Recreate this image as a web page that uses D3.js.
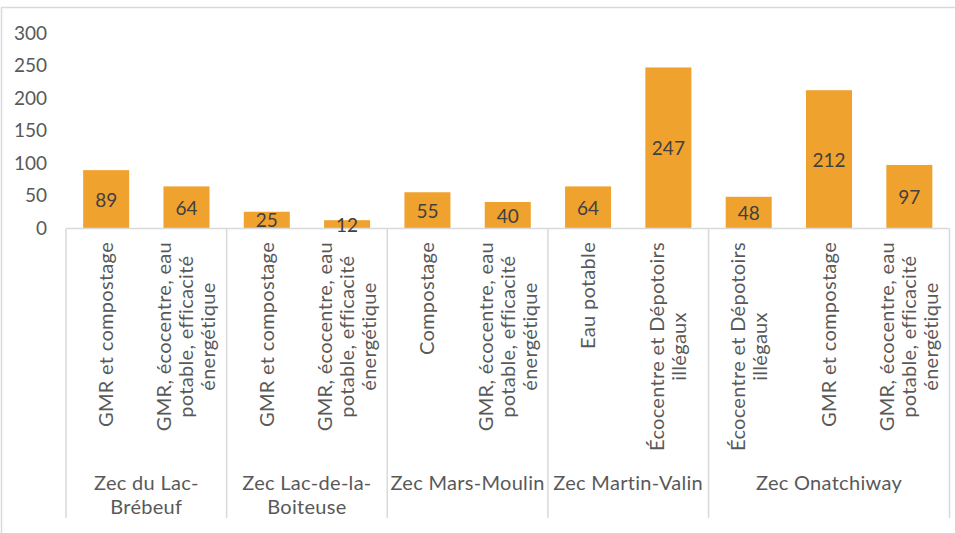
<!DOCTYPE html>
<html>
<head>
<meta charset="utf-8">
<script src="https://cdn.jsdelivr.net/npm/d3@7"></script>
<style>
  body { margin: 0; background: #fff; }
  text { font-family: Lato, "Open Sans", sans-serif; }
</style>
</head>
<body>
<div id="chart"></div>
<script>
// one entry per bar, lines of the rotated label
var categories = [
    ["GMR et compostage"],
    ["GMR, écocentre, eau", "potable, efficacité", "énergétique"],
    ["GMR et compostage"],
    ["GMR, écocentre, eau", "potable, efficacité", "énergétique"],
    ["Compostage"],
    ["GMR, écocentre, eau", "potable, efficacité", "énergétique"],
    ["Eau potable"],
    ["Écocentre et Dépotoirs", "illégaux"],
    ["Écocentre et Dépotoirs", "illégaux"],
    ["GMR et compostage"],
    ["GMR, écocentre, eau", "potable, efficacité", "énergétique"]
];
var values = [89, 64, 25, 12, 55, 40, 64, 247, 48, 212, 97];

var groups = [
    ["Zec du Lac-", "Brébeuf"],
    ["Zec Lac-de-la-", "Boiteuse"],
    ["Zec Mars-Moulin"],
    ["Zec Martin-Valin"],
    ["Zec Onatchiway"]
];
var groupSizes = [2, 2, 2, 2, 3];
var yTicks = [0, 50, 100, 150, 200, 250, 300];

var width = 955, height = 533;
var fontSize = 19;
var labelSize = 20;

var svg = d3.select("#chart")
  .append("svg")
    .attr("width", width)
    .attr("height", height)
    .style("background", "white");

// chart frame (right and bottom run off the picture)
svg.append("rect")
    .attr("x", 1.5)
    .attr("y", 7.5)
    .attr("width", 1200)
    .attr("height", 1200)
    .attr("fill", "none")
    .attr("stroke", "#d9d9d9")
    .attr("stroke-width", 1.5);

var x = d3.scaleBand()
    .domain(d3.range(values.length))
    .range([66, 949.5])
    .paddingInner(0.427)
    .paddingOuter(0.2135);

var y = d3.scaleLinear()
    .domain([0, 300])
    .range([228, 33]);

var yAxis = svg.append("g")
    .attr("transform", "translate(66,0)")
    .call(d3.axisLeft(y).tickValues(yTicks).tickSize(0).tickPadding(19));
yAxis.select(".domain").remove();
yAxis.selectAll("text")
    .style("font-family", "Lato, sans-serif")
    .style("font-size", fontSize + "px")
    .attr("fill", "#595959");

// bars
svg.selectAll(".bar")
    .data(values)
    .enter()
    .append("rect")
      .attr("class", "bar")
      .attr("x", function(d, i) { return x(i); })
      .attr("y", function(d) { return y(d); })
      .attr("width", x.bandwidth())
      .attr("height", function(d) { return y(0) - y(d); })
      .attr("fill", "#f0a22e");

// category axis line
svg.append("line")
    .attr("x1", 66).attr("x2", 949.5)
    .attr("y1", 228.5).attr("y2", 228.5)
    .attr("stroke", "#d9d9d9")
    .attr("stroke-width", 1.5);

// group separators
var bounds = [0];
groupSizes.forEach(function(n, i) { bounds.push(bounds[i] + n); });
svg.selectAll(".sep")
    .data(bounds)
    .enter()
    .append("line")
      .attr("x1", function(b) { return 66 + b * x.step(); })
      .attr("x2", function(b) { return 66 + b * x.step(); })
      .attr("y1", 228.5)
      .attr("y2", 518)
      .attr("stroke", "#d9d9d9")
      .attr("stroke-width", 1.5);

// value labels inside bars
svg.selectAll(".val")
    .data(values)
    .enter()
    .append("text")
      .attr("class", "val")
      .attr("x", function(d, i) { return x(i) + x.bandwidth() / 2; })
      .attr("y", function(d) { return (y(d) + y(0)) / 2; })
      .attr("text-anchor", "middle")
      .attr("dominant-baseline", "central")
      .style("font-size", fontSize + "px")
      .attr("fill", "#404040")
      .text(function(d) { return d; });

// rotated category labels
var lineGap = 22;
categories.forEach(function(lines, i) {
    var cx = x(i) + x.bandwidth() / 2;
    var t = svg.append("text")
        .attr("text-anchor", "middle")
        .style("font-size", labelSize + "px")
        .style("letter-spacing", "0.3px")
        .attr("fill", "#595959");
    lines.forEach(function(l, k) {
        t.append("tspan")
            .attr("x", 0)
            .attr("y", (k - (lines.length - 1) / 2) * lineGap)
            .attr("dy", "0.35em")
            .text(l);
    });
    var maxLen = d3.max(t.selectAll("tspan").nodes(), function(n) { return n.getComputedTextLength(); });
    var cy = 242 + maxLen / 2;
    t.attr("transform", "translate(" + cx + "," + cy + ") rotate(-90)");
});

// group labels
groups.forEach(function(lines, g) {
    var cx = 66 + (bounds[g] + bounds[g + 1]) / 2 * x.step();
    var t = svg.append("text")
        .attr("text-anchor", "middle")
        .style("font-size", labelSize + "px")
        .style("letter-spacing", "0.3px")
        .attr("fill", "#595959");
    lines.forEach(function(l, k) {
        t.append("tspan")
            .attr("x", cx)
            .attr("y", 483 + k * 24)
            .attr("dy", "0.35em")
            .text(l);
    });
});
</script>
</body>
</html>
